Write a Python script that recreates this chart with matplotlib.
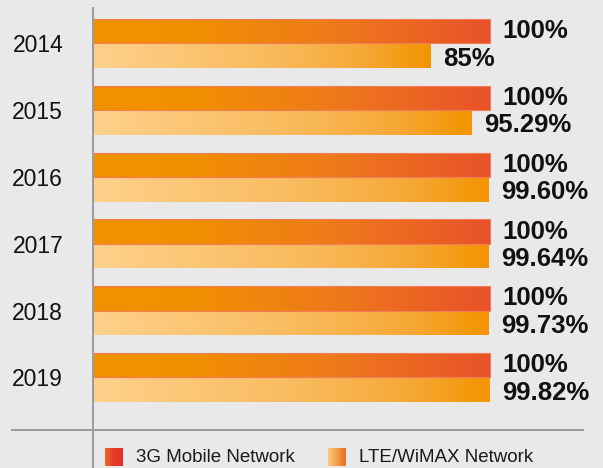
import numpy as np
import matplotlib
matplotlib.use("Agg")
import matplotlib.pyplot as plt
from matplotlib.colors import LinearSegmentedColormap
from matplotlib.lines import Line2D

plt.rcParams["font.family"] = ["Liberation Sans", "DejaVu Sans"]

# Data
years = ["2014", "2015", "2016", "2017", "2018", "2019"]
mobile_3g = [100, 100, 100, 100, 100, 100]
lte_wimax = [85, 95.29, 99.60, 99.64, 99.73, 99.82]
mobile_3g_labels = ["100%"] * 6
lte_labels = ["85%", "95.29%", "99.60%", "99.64%", "99.73%", "99.82%"]
legend_names = ["3G Mobile Network", "LTE/WiMAX Network"]

# Colours
bg = "#e9e9e9"
cmap_3g = LinearSegmentedColormap.from_list(
    "g3", [(0, "#f39200"), (0.25, "#f28f02"), (0.6, "#ee7a1a"), (1, "#e9522a")])
cmap_lte = LinearSegmentedColormap.from_list(
    "lte", [(0, "#fdd18c"), (0.55, "#f9b95a"), (0.8, "#f6a836"), (1, "#f39400")])
cmap_leg_3g = LinearSegmentedColormap.from_list("l3", ["#ee6a2c", "#e53a2a", "#e3302a"])
cmap_leg_lte = LinearSegmentedColormap.from_list("ll", ["#fcca80", "#f2a04a", "#e06c1c"])

W, H = 603, 468
fig = plt.figure(figsize=(W / 100, H / 100), dpi=100, facecolor=bg)

# axes area: left edge at the vertical line, spans y 8..430 px
ax = fig.add_axes([93 / W, 38 / H, 1 - 93 / W, 422 / H])
ax.set_facecolor(bg)
for s in ax.spines.values():
    s.set_visible(False)

y = np.arange(len(years))
h = 0.367
grad = np.linspace(0, 1, 256).reshape(1, -1)

def gradient_bars(ypos, vals, cmap, edge):
    bars = ax.barh(ypos, vals, height=h, color="none",
                   edgecolor=edge, linewidth=0.8, zorder=3)
    for b in bars:
        x0, y0 = b.get_x(), b.get_y()
        im = ax.imshow(grad, cmap=cmap, aspect="auto", interpolation="bicubic",
                       extent=[x0, x0 + b.get_width(), y0 + b.get_height(), y0],
                       zorder=2)
        im.set_clip_path(b)
    return bars

gradient_bars(y - h / 2, mobile_3g, cmap_3g, "#f07c5a")
gradient_bars(y + h / 2, lte_wimax, cmap_lte, "none")

for i in range(len(years)):
    ax.annotate(mobile_3g_labels[i], (mobile_3g[i], y[i] - h / 2),
                xytext=(9, 0), textcoords="offset points",
                ha="left", va="center", fontsize=18.5, fontweight="bold",
                color="#111111")
    ax.annotate(lte_labels[i], (lte_wimax[i], y[i] + h / 2),
                xytext=(9, -2), textcoords="offset points",
                ha="left", va="center", fontsize=18.5, fontweight="bold",
                color="#111111")

ax.set_xlim(0, 510 / 3.97)
ax.set_ylim(5.786, -0.531)
ax.set_xticks([])
ax.set_yticks(y)
ax.set_yticklabels(years, fontsize=16.5, color="#111111")
ax.tick_params(axis="y", length=0, pad=21.5)

# frame lines
fig.add_artist(Line2D([93 / W, 93 / W], [0, 1 - 8 / H], color="#9a9a9a", lw=1.4))
fig.add_artist(Line2D([12 / W, 583 / W], [1 - 430 / H, 1 - 430 / H], color="#9a9a9a", lw=1.4))

# legend
for (x0, name, cm) in [(105, legend_names[0], cmap_leg_3g), (328, legend_names[1], cmap_leg_lte)]:
    sw = fig.add_axes([x0 / W, (H - 466) / H, 18 / W, 18 / H])
    sw.imshow(grad, cmap=cm, aspect="auto", interpolation="bicubic")
    sw.axis("off")
    fig.text((x0 + 31) / W, 1 - 457 / H, name, ha="left", va="center",
             fontsize=13.5, color="#1a1a1a")

fig.savefig("out.png", dpi=100, facecolor=bg)
